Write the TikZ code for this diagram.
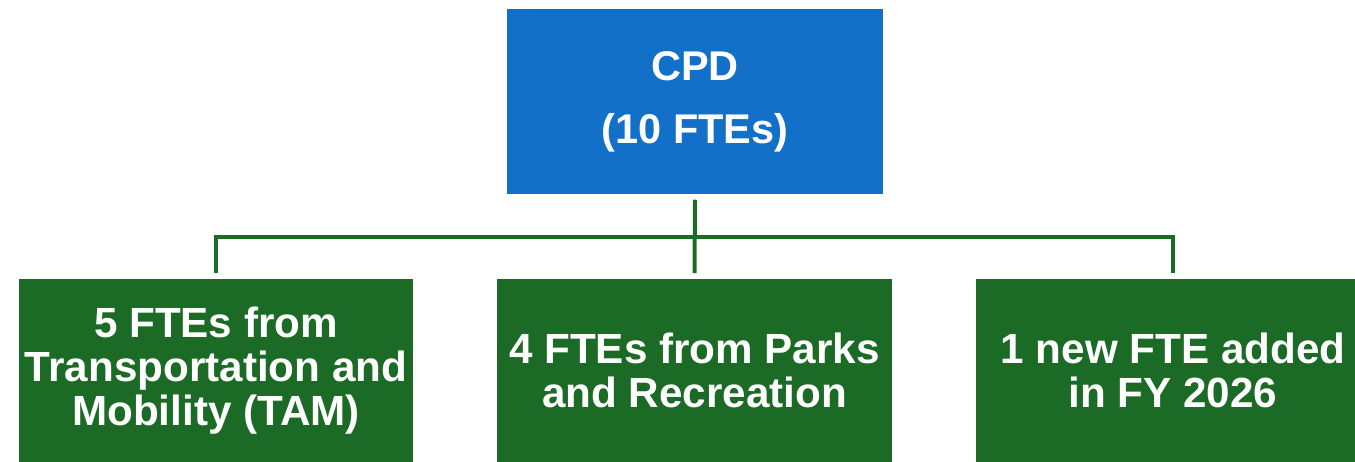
\documentclass[tikz,border=0pt]{standalone}
\usepackage{fontspec}
\setmainfont{Liberation Sans}
\definecolor{cpdblue}{RGB}{18,112,200}
\definecolor{deptgreen}{RGB}{27,106,37}
\tikzset{
  topbox/.style={fill=cpdblue, text=white, font=\fontsize{11.8}{17.9}\selectfont\bfseries, align=center, minimum width=3.76cm, minimum height=1.85cm, inner sep=0pt},
  subbox/.style={fill=deptgreen, text=white, font=\fontsize{12}{12.5}\selectfont\bfseries, align=center, minimum width=3.94cm, minimum height=1.83cm, inner sep=0pt},
  link/.style={draw=deptgreen, line width=0.04cm}
}
\begin{document}
\begin{tikzpicture}[x=0.01cm,y=-0.01cm]
\useasboundingbox (0,0) rectangle (1355,462);

% верхний блок
\node[topbox] (cpd) at (695,101.5) {CPD\\(10 FTEs)};

% нижние блоки
\node[subbox] (tam) at (216,370.5) {5 FTEs from\\Transportation and\\Mobility (TAM)};
\node[subbox] (parks) at (694.5,370.5) {4 FTEs from Parks\\and Recreation};
\node[subbox] (newfte) at (1173,370.5) {1 new FTE added\\in FY 2026};

% связи
\coordinate (bus) at (695,237);
\draw[link] ([yshift=-0.05cm]cpd.south) -- ([yshift=0.05cm]parks.north);
\draw[link] ([yshift=0.05cm]tam.north) |- (bus) -| ([yshift=0.05cm]newfte.north);

\end{tikzpicture}
\end{document}
